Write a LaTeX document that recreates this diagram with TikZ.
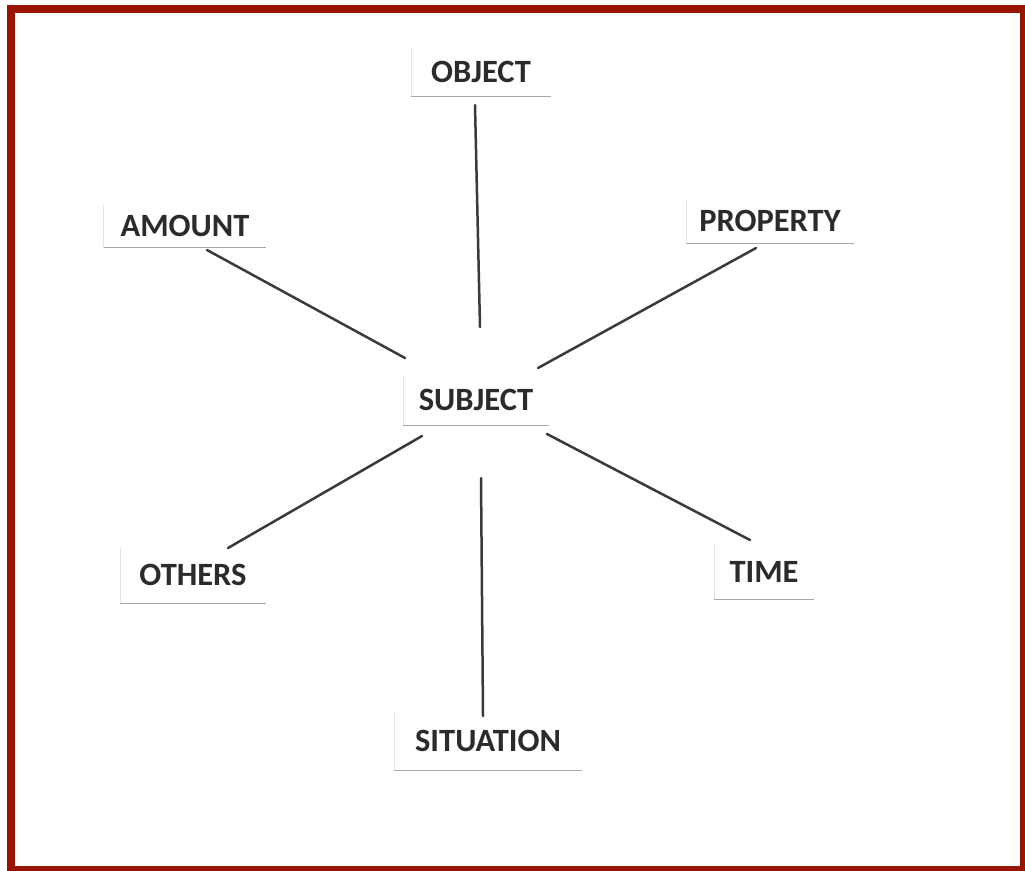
\documentclass[tikz,border=0pt]{standalone}
\usepackage{fontspec}
\setsansfont{Carlito}
\definecolor{framecol}{HTML}{981600}
\definecolor{textcol}{HTML}{2B2B2B}
\definecolor{linecol}{HTML}{3A3A3A}
\definecolor{edgecol}{HTML}{A8A8A8}
\definecolor{sidecol}{HTML}{E4E4E4}
\tikzset{
	label/.style={inner sep=0pt,font=\sffamily\bfseries\fontsize{32.5}{38}\selectfont,text=textcol},
	spoke/.style={draw=linecol,line width=2.5pt,line cap=round},
	paperedge/.style={draw=edgecol,line width=1.2pt},
	paperside/.style={draw=sidecol,line width=1pt}
}
\begin{document}
\begin{tikzpicture}[x=1pt,y=-1pt]
\useasboundingbox (0,0) rectangle (1025,870);
\fill[white] (0,0) rectangle (1025,870);
\draw[framecol,line width=8pt] (11,9) rectangle (1024,870);
% labels on their paper slips
\foreach \name/\txt/\x/\y/\w/\h in {
	object/OBJECT/481/72/139/48,
	amount/AMOUNT/185/226/162/42,
	property/PROPERTY/770/221/167/44,
	subject/SUBJECT/476/400/145/50,
	others/OTHERS/193/575/145/56,
	time/TIME/764/572/99/55,
	situation/SITUATION/488/741/187/59%
	}{
	\node[label,minimum width=\w,minimum height=\h] (\name) at (\x,\y) {\txt};
	\draw[paperside] (\name.south west) -- (\name.north west);
	\draw[paperedge] (\name.south west) -- (\name.south east);
	}
% spoke ends
\coordinate (object-end) at (475,105);
\coordinate (object-hub) at (480,327);
\coordinate (amount-end) at (207,250);
\coordinate (amount-hub) at (405,358);
\coordinate (property-end) at (756,248);
\coordinate (property-hub) at (538,368);
\coordinate (others-end) at (228,548);
\coordinate (others-hub) at (422,436);
\coordinate (time-end) at (750,540);
\coordinate (time-hub) at (547,434);
\coordinate (situation-end) at (483,716);
\coordinate (situation-hub) at (481,478);
\foreach \name in {object,amount,property,others,time,situation}{
	\draw[spoke] (\name-hub) -- (\name-end);
	}
\end{tikzpicture}
\end{document}
